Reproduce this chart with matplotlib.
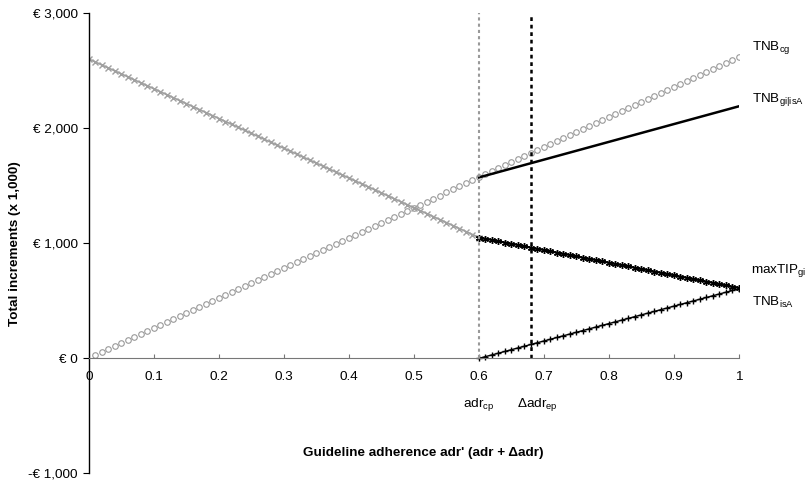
import numpy as np
import matplotlib
matplotlib.use("Agg")
import matplotlib.pyplot as plt
from matplotlib.ticker import FuncFormatter

matplotlib.rcParams["font.family"] = ["Liberation Sans", "DejaVu Sans"]
matplotlib.rcParams["font.size"] = 9.7
matplotlib.rcParams["mathtext.default"] = "regular"

# adherence grid (step 0.01)
adr = np.round(np.arange(0, 101) / 100, 2)
# line end points
cg_start, cg_end = 0, 2620          # TNB_cg
tip_start, tip_mid = 2600, 1050     # maxTIP (grey part 0 -> 0.6)
tip_end = 612                       # maxTIP_gi at 1
gi_mid, gi_end = 1572, 2190         # TNB_gi|isA from 0.6 to 1
isa_mid, isa_end = 0, 605           # TNB_isA from 0.6 to 1
adr_cp = 0.6
dadr_ep = 0.68

tnb_cg = np.interp(adr, [0, 1], [cg_start, cg_end])
tip_grey = np.interp(adr, [0, adr_cp], [tip_start, tip_mid])
tip_gi = np.interp(adr, [adr_cp, 1], [tip_mid, tip_end])
tnb_gi = np.interp(adr, [adr_cp, 1], [gi_mid, gi_end])
tnb_isa = np.interp(adr, [adr_cp, 1], [isa_mid, isa_end])
lo = adr <= adr_cp
hi = adr >= adr_cp

fig = plt.figure(figsize=(8.08, 4.84), dpi=100)
ax = fig.add_axes([0.1101, 0.0217, 0.8045, 0.9514])

ax.plot(adr[1:], tnb_cg[1:], ls="none", marker="o", ms=4, mfc="white",
        mec="#999999", mew=0.8)
ax.plot(adr[lo], tip_grey[lo], color="#a0a0a0", lw=1.2, marker="x", ms=4, mew=1)
ax.plot(adr[hi], tip_gi[hi], color="black", lw=1.5, marker=(6, 2, 0), ms=5, mew=1)
ax.plot(adr[hi], tnb_gi[hi], color="black", lw=1.8)
ax.plot(adr[hi], tnb_isa[hi], color="black", lw=1, marker="+", ms=5, mew=1)

ax.plot([adr_cp, adr_cp], [0, 3000], color="#999999", ls=(0, (1.5, 1.5)), lw=1.5)
ax.plot([dadr_ep, dadr_ep], [0, 3000], color="black", ls=(0, (1.5, 1.5)), lw=1.8)

ax.set_xlim(0, 1)
ax.set_ylim(-1000, 3000)
ax.set_yticks([-1000, 0, 1000, 2000, 3000])
ax.set_xticks(np.round(np.arange(0, 11) / 10, 1))
ax.yaxis.set_major_formatter(FuncFormatter(
    lambda v, p: ("-€ " if v < 0 else "€ ") + format(int(abs(v)), ",")))
ax.xaxis.set_major_formatter(FuncFormatter(lambda v, p: "%g" % v))

ax.spines["top"].set_visible(False)
ax.spines["right"].set_visible(False)
ax.spines["bottom"].set_position(("data", 0))
ax.spines["bottom"].set_color("#777777")
ax.spines["left"].set_linewidth(1)
ax.tick_params(axis="x", direction="in", length=3, color="#777777", pad=9)
ax.tick_params(axis="y", direction="out", length=4, pad=4)

ax.set_ylabel("Total increments (x 1,000)", fontweight="bold", labelpad=5)
ax.text(0.515, -820, "Guideline adherence adr' (adr + Δadr)", ha="center",
        va="center", fontweight="bold")

ax.text(adr_cp, -400, "adr$_{cp}$", ha="center", va="center")
ax.text(dadr_ep + 0.01, -400, "Δadr$_{ep}$", ha="center", va="center")

ax.text(1.02, 2700, "TNB$_{cg}$", va="center", clip_on=False)
ax.text(1.02, 2245, "TNB$_{gi|isA}$", va="center", clip_on=False)
ax.text(1.0185, 760, "maxTIP$_{gi}$", va="center", clip_on=False)
ax.text(1.02, 490, "TNB$_{isA}$", va="center", clip_on=False)

fig.savefig("out.png", dpi=100)
